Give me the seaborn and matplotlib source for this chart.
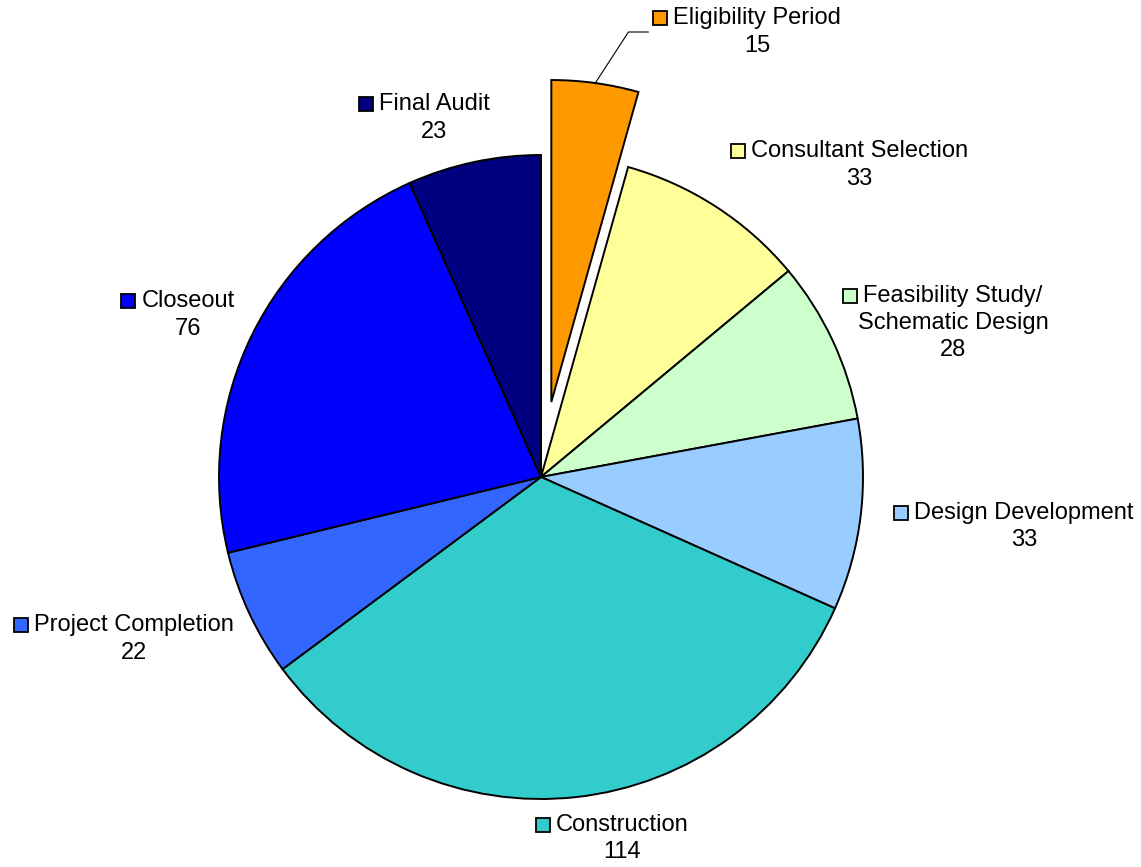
import matplotlib
matplotlib.use("Agg")
import numpy as np
import matplotlib.pyplot as plt
import seaborn as sns

# Data
phases = ["Eligibility Period", "Consultant Selection", "Feasibility Study/\nSchematic Design",
          "Design Development", "Construction", "Project Completion", "Closeout", "Final Audit"]
days = [15, 33, 28, 33, 114, 22, 76, 23]
colors = ["#FF9900", "#FFFF99", "#CCFFCC", "#99CCFF", "#33CCCC", "#3366FF", "#0000FF", "#000080"]
explode = [0.235, 0, 0, 0, 0, 0, 0, 0]

# label anchor positions (pie radius units)
label_pos = [(0.672, 1.382), (0.988, 0.969), (1.280, 0.478), (1.500, -0.155),
             (0.252, -1.124), (-1.264, -0.503), (-1.096, 0.503), (-0.331, 1.115)]

sns.set_theme(style="white")
plt.rcParams['font.family'] = ['Liberation Sans', 'DejaVu Sans']

W, H = 1141, 867
fig = plt.figure(figsize=(W / 100, H / 100), dpi=100)
ax = fig.add_axes([0, 0, 1, 1])

wedges, _ = ax.pie(days, colors=colors, explode=explode, startangle=90,
                   counterclock=False, radius=1.0,
                   wedgeprops=dict(edgecolor="black", linewidth=1.4))

cx, cy, r = 541, 477, 322
ax.set_xlim(-cx / r, (W - cx) / r)
ax.set_ylim(-(H - cy) / r, cy / r)
ax.set_aspect("auto")
ax.axis("off")

fs = 17
texts = []
for name, val, (x, y) in zip(phases, days, label_pos):
    t = ax.text(x, y, f"{name}\n{val}", ha="center", va="center",
                multialignment="center", fontsize=fs, color="black",
                linespacing=1.3)
    texts.append(t)

fig.canvas.draw()
renderer = fig.canvas.get_renderer()
inv = ax.transData.inverted()
fs_px = fs * 100 / 72


def first_line_width(name):
    tmp = ax.text(0, 0, name.split("\n")[0], fontsize=fs)
    w = tmp.get_window_extent(renderer).width
    tmp.remove()
    return w


for t, name, col in zip(texts, phases, colors):
    bb = t.get_window_extent(renderer)
    w = first_line_width(name)
    xc = (bb.x0 + bb.x1) / 2
    sx = xc - w / 2 - 6 - 7
    sy = bb.y1 - 0.45 * fs_px
    dx, dy = inv.transform((sx, sy))
    ax.plot([dx], [dy], marker="s", ms=10.5, mfc=col, mec="black", mew=1.3, ls="none")

# leader line for the exploded slice
ang = np.deg2rad((wedges[0].theta1 + wedges[0].theta2) / 2)
ox, oy = wedges[0].center
p0 = (ox + np.cos(ang), oy + np.sin(ang))
bb = texts[0].get_window_extent(renderer)
first_w = first_line_width(phases[0])
end_disp = ((bb.x0 + bb.x1) / 2 - first_w / 2 - 25, (bb.y0 + bb.y1) / 2)
end = inv.transform(end_disp)
mid = inv.transform((end_disp[0] - 20, end_disp[1]))
ax.plot([p0[0], mid[0], end[0]], [p0[1], mid[1], end[1]], color="black", lw=0.8)

fig.savefig("out.png", dpi=100)
